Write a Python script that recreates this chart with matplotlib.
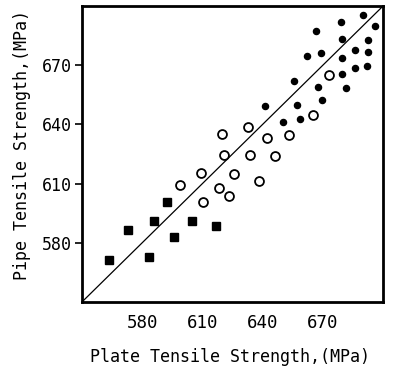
#!/usr/bin/env python3
import matplotlib
matplotlib.use('Agg')
import matplotlib.pyplot as plt

# Plate vs pipe tensile strength (MPa)
sq_plate = [563.6, 573.1, 583.2, 585.8, 592.5, 595.6, 604.7, 616.7]
sq_pipe = [571.1, 586.4, 572.8, 591.1, 600.6, 583.0, 591.1, 588.7]

open_plate = [598.8, 609.1, 610.4, 618.2, 623.2, 619.7, 620.8, 625.8,
              632.8, 633.8, 638.3, 642.4, 646.4, 653.0, 665.3, 673.1]
open_pipe = [609.5, 615.4, 600.7, 607.8, 603.8, 635.1, 624.4, 615.1,
             638.8, 624.6, 611.2, 632.9, 623.9, 634.7, 645.0, 664.8]

dot_plate = [641.4, 650.0, 655.5, 657.0, 658.5, 662.0, 666.8, 669.1,
             667.6, 669.4, 679.1, 679.7, 679.7, 679.6, 681.7, 686.2,
             685.9, 690.2, 692.5, 692.5, 692.2, 695.8]
dot_pipe = [649.3, 641.0, 661.9, 649.6, 642.5, 674.5, 687.5, 676.3,
            658.9, 652.6, 691.9, 683.3, 673.4, 665.7, 658.6, 677.7,
            668.7, 695.3, 682.7, 676.7, 669.7, 689.8]

ticks = [580, 610, 640, 670]
lims = [550, 700]


def draw():
    plt.rcParams['font.family'] = ['DejaVu Sans Mono']

    fig = plt.figure(figsize=(3.93, 3.76), dpi=100, facecolor='white')
    ax = fig.add_axes([0.2087, 0.197, 0.766, 0.787])

    # one-to-one line
    ax.plot(lims, lims, color='black', lw=0.9)

    ax.plot(sq_plate, sq_pipe, 's', color='black', ms=6.2, ls='none')
    ax.plot(open_plate, open_pipe, 'o', mfc='white', mec='black',
            mew=1.3, ms=6.4, ls='none')
    ax.plot(dot_plate, dot_pipe, 'o', color='black', ms=4.4, ls='none')

    ax.set_xlim(lims)
    ax.set_ylim(lims)
    ax.set_xticks(ticks)
    ax.set_yticks(ticks)
    ax.tick_params(axis='x', length=0, pad=9, labelsize=12.5)
    ax.tick_params(axis='y', length=5, width=1.2, pad=2, labelsize=12)
    for s in ax.spines.values():
        s.set_linewidth(2.0)

    ax.set_xlabel('Plate Tensile Strength,(MPa)', fontsize=12)
    ax.xaxis.set_label_coords(0.49, -0.155)
    ax.set_ylabel('Pipe Tensile Strength,(MPa)', fontsize=12)
    ax.yaxis.set_label_coords(-0.17, 0.53)

    plt.savefig('out.png', facecolor=fig.get_facecolor(), dpi=100)


if __name__ == '__main__':
    draw()
